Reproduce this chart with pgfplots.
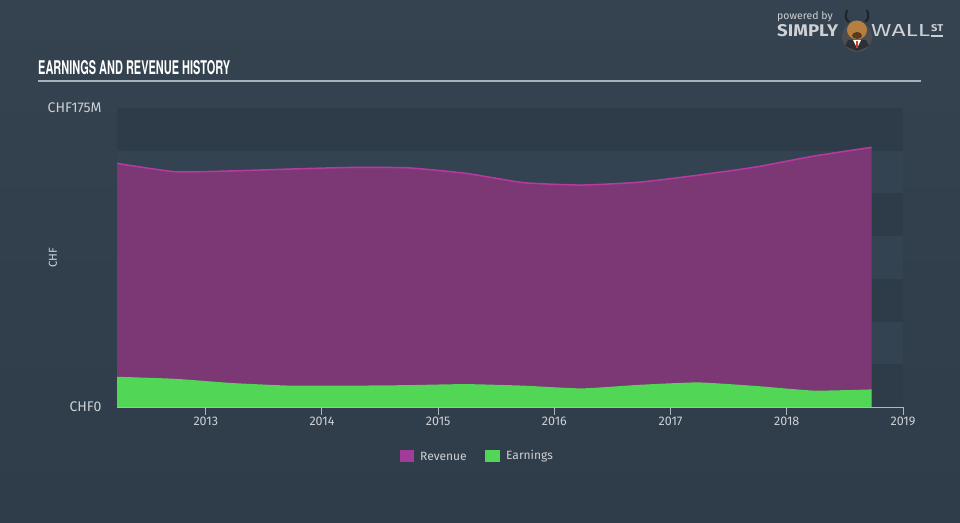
\documentclass[border=0pt]{standalone}
\usepackage{pgfplots}
\pgfplotsset{compat=1.18}
\usepackage{fontspec}
\setmainfont{Fira Sans}
\newfontfamily\titlefont{TeX Gyre Heros}
\definecolor{bgtop}{HTML}{34434F}
\definecolor{bgbot}{HTML}{2F3C4A}
\definecolor{darkband}{HTML}{2E3B48}
\definecolor{lightband}{HTML}{334351}
\definecolor{revfill}{HTML}{7B3874}
\definecolor{revline}{HTML}{B8399F}
\definecolor{revlegend}{HTML}{A13D98}
\definecolor{earnfill}{HTML}{52D655}
\definecolor{axisgray}{HTML}{AEB6BE}
\definecolor{labelgray}{HTML}{CDD1D5}
\definecolor{rulegray}{HTML}{A9B1B9}
\definecolor{bullcircle}{HTML}{4A4E52}
\definecolor{bullhead}{HTML}{B5803F}
\definecolor{bullnose}{HTML}{5A3A1E}
\definecolor{bullhorn}{HTML}{222222}
\definecolor{bulltie}{HTML}{D04020}
\definecolor{bullsuit}{HTML}{2C2F33}
\pgfplotstableread{
x y
2012.236 142.6
2012.736 137.7
2013.236 138.2
2013.736 139.3
2014.236 140.2
2014.736 140.0
2015.236 136.8
2015.736 131.3
2016.236 129.9
2016.736 131.6
2017.236 135.7
2017.736 140.5
2018.236 146.9
2018.730 152.0
}\revenue
\pgfplotstableread{
x y
2012.236 17.7
2012.736 16.5
2013.236 14.0
2013.736 12.5
2014.236 12.5
2014.736 12.8
2015.236 13.4
2015.736 12.5
2016.236 10.9
2016.736 13.0
2017.236 14.4
2017.736 12.3
2018.236 9.6
2018.730 10.3
}\earnings
\begin{document}
\begin{tikzpicture}[x=1pt,y=1pt]
\shade[top color=bgtop, bottom color=bgbot] (0,0) rectangle (960,522);
\useasboundingbox (0,0) rectangle (960,522);
% title
\node[anchor=south west, inner sep=0pt, text=white] at (38,447)
  {\resizebox{192pt}{14pt}{\titlefont\bfseries EARNINGS AND REVENUE HISTORY}};
\draw[rulegray, line width=2pt] (38,440.5) -- (921,440.5);
% logo
\node[anchor=west, inner sep=0pt, text=labelgray, font=\fontsize{10.5}{12}\selectfont] at (777,505) {powered by};
\node[anchor=south west, inner sep=0pt, text=labelgray] at (777,485)
  {\resizebox{61pt}{12pt}{\bfseries SIMPLY}};
\fill[bullcircle] (857,485) circle (15);
\fill[bullsuit] (845,476) -- (857,471) -- (869,476) -- (866,482) -- (848,482) -- cycle;
\fill[white] (853,482) -- (861,482) -- (857,474) -- cycle;
\fill[bulltie] (856.2,474) rectangle (857.8,481);
\fill[bullhead] (857,492) ellipse (10 and 9.5);
\fill[bullnose] (857,486.5) ellipse (5 and 3.5);
\draw[bullhorn, line width=2pt] (849,500) .. controls (845,504) .. (847,512);
\draw[bullhorn, line width=2pt] (865,500) .. controls (869,504) .. (867,512);
\node[anchor=south west, inner sep=0pt, text=labelgray] at (871,485)
  {\resizebox{59pt}{12pt}{WALL}};
\node[anchor=south west, inner sep=0pt, text=labelgray] at (931,490)
  {\resizebox{12pt}{7pt}{\bfseries ST}};
\draw[labelgray, line width=1.2pt] (931,486) -- (943,486);
\begin{axis}[
  at={(117pt,115pt)}, anchor=south west,
  scale only axis, width=786pt, height=299pt,
  xmin=2012.236, xmax=2019, ymin=0, ymax=175,
  axis x line*=bottom, axis y line*=left,
  y axis line style={draw=none},
  x axis line style={draw=axisgray, line width=1pt},
  xtick={2013,2014,2015,2016,2017,2018,2019},
  xticklabels={2013,2014,2015,2016,2017,2018,2019},
  ytick={0,175}, yticklabels={CHF0,CHF175M},
  ytick style={draw=none},
  xtick style={draw=axisgray, line width=1pt},
  tick align=outside, major tick length=8pt,
  xticklabel style={font=\fontsize{12.5}{14}\selectfont, text=labelgray, inner sep=2pt},
  yticklabel style={font=\fontsize{14}{16}\selectfont, text=labelgray, xshift=-4pt},
  axis on top,
]
\fill[lightband] (2012.236,0) rectangle (2019,175);
\fill[darkband] (2012.236,0) rectangle (2019,25);
\fill[darkband] (2012.236,50) rectangle (2019,75);
\fill[darkband] (2012.236,100) rectangle (2019,125);
\fill[darkband] (2012.236,150) rectangle (2019,175);
\addplot[draw=none, fill=revfill, smooth, tension=0.3] table[x=x,y=y] {\revenue} \closedcycle;
\addplot[revline, line width=1.5pt, smooth, tension=0.3] table[x=x,y=y] {\revenue};
\addplot[draw=none, fill=earnfill, smooth, tension=0.3] table[x=x,y=y] {\earnings} \closedcycle;
\end{axis}
\node[rotate=90, text=labelgray, font=\fontsize{11.5}{12}\selectfont] at (53,264) {CHF};
% legend
\fill[revlegend] (400,60) rectangle (414,72);
\node[anchor=west, inner sep=0pt, text=labelgray, font=\fontsize{12}{14}\selectfont] at (420,66) {Revenue};
\fill[earnfill] (485,60) rectangle (500,72);
\node[anchor=west, inner sep=0pt, text=labelgray, font=\fontsize{12}{14}\selectfont] at (506,66) {Earnings};
\end{tikzpicture}
\end{document}
